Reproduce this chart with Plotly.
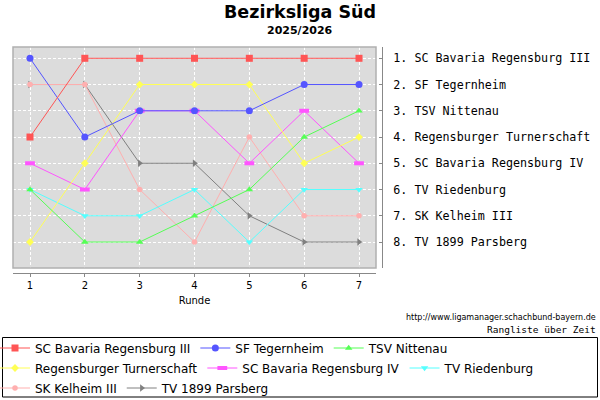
import plotly.graph_objects as go

# figure size and plot area (pixels)
W, H = 600, 400
L, R, T, B = 13, 218, 47, 127

rounds = [1, 2, 3, 4, 5, 6, 7]

teams = [
    "SC Bavaria Regensburg III",
    "SF Tegernheim",
    "TSV Nittenau",
    "Regensburger Turnerschaft",
    "SC Bavaria Regensburg IV",
    "TV Riedenburg",
    "SK Kelheim III",
    "TV 1899 Parsberg",
]

# rank after each round
rank_bavaria3 = [4, 1, 1, 1, 1, 1, 1]
rank_tegernheim = [1, 4, 3, 3, 3, 2, 2]
rank_nittenau = [6, 8, 8, 7, 6, 4, 3]
rank_turnerschaft = [8, 5, 2, 2, 2, 5, 4]
rank_bavaria4 = [5, 6, 3, 3, 5, 3, 5]
rank_riedenburg = [6, 7, 7, 6, 8, 6, 6]
rank_kelheim = [2, 2, 6, 8, 4, 7, 7]
rank_parsberg = [2, 2, 5, 5, 7, 8, 8]

ranks = [rank_bavaria3, rank_tegernheim, rank_nittenau, rank_turnerschaft,
         rank_bavaria4, rank_riedenburg, rank_kelheim, rank_parsberg]

final_places = [1, 2, 3, 4, 5, 6, 7, 8]
place_labels = [f"{p}. {t}" for p, t in zip(final_places, teams)]

colors = ["#ff5555", "#5555ff", "#55ff55", "#ffff55",
          "#ff55ff", "#55ffff", "#ffafaf", "#808080"]
symbols = ["square", "circle", "triangle-up", "diamond",
           "line-ew", "triangle-down", "circle", "triangle-right"]
sizes = [7, 7, 6.5, 6, 7, 6.5, 5.5, 6.5]


def px_x(px):
    return (px - L) / (W - L - R)


def px_y(py):
    return (H - B - py) / (H - T - B)


fig = go.Figure()

# first series on top -> add in reverse, keep legend order with legendrank
for i in reversed(range(len(teams))):
    c = colors[i]
    line_marker = symbols[i] == "line-ew"
    fig.add_trace(go.Scatter(
        x=rounds, y=ranks[i], name=teams[i],
        mode="lines+markers",
        line=dict(color=c, width=1),
        marker=dict(symbol=symbols[i], size=sizes[i], color=c,
                    line=dict(color=c, width=4 if line_marker else 0)),
        legendgroup=teams[i], legendrank=i + 1,
    ))

mono = "DejaVu Sans Mono"
sans = "DejaVu Sans"

fig.update_layout(
    width=W, height=H,
    margin=dict(l=L, r=R, t=T, b=B, autoexpand=False),
    paper_bgcolor="white",
    plot_bgcolor="#dcdcdc",
    font=dict(family=sans, size=10, color="black"),
    showlegend=True,
    legend=dict(
        orientation="h", xanchor="right", x=px_x(540),
        yanchor="top", y=px_y(333.5),
        font=dict(family=sans, size=12, color="black"),
        bgcolor="rgba(0,0,0,0)", borderwidth=0,
        tracegroupgap=1, itemwidth=30,
    ),
    xaxis=dict(
        domain=[0, px_x(376)], range=[0.69, 7.31],
        anchor="free", position=0,
        tickvals=rounds, ticks="outside", ticklen=3, tickcolor="#888888",
        showline=True, linecolor="#888888", linewidth=1,
        showgrid=True, gridcolor="white", griddash="3px,2px", gridwidth=1,
        zeroline=False,
        tickfont=dict(family=sans, size=10),
        title=dict(text="Runde", font=dict(family=sans, size=10), standoff=6),
    ),
    yaxis=dict(
        domain=[px_y(268), 1], range=[8.99, 0.57],
        side="right", anchor="free", position=1,
        tickvals=final_places, ticktext=place_labels,
        ticks="inside", ticklen=3, tickcolor="#888888",
        showline=True, linecolor="#888888", linewidth=1,
        showgrid=True, gridcolor="white", griddash="3px,2px", gridwidth=1,
        zeroline=False,
        tickfont=dict(family=mono, size=11.7),
        ticklabelstandoff=8,
    ),
)

# plot outline and legend frame
fig.add_shape(type="rect", xref="x domain", yref="y domain",
              x0=0, x1=1, y0=0, y1=1, line=dict(color="#b0b0b0", width=1.5))
fig.add_shape(type="rect", xref="paper", yref="paper",
              x0=px_x(2.5), x1=px_x(597.5), y0=px_y(397), y1=px_y(337.5),
              line=dict(color="black", width=1))

texts = [
    ("Bezirksliga Süd", 300, 12, "center", dict(family=sans, size=17.5, weight="bold")),
    ("2025/2026", 300, 30, "center", dict(family=sans, size=11, weight="bold")),
    ("http://www.ligamanager.schachbund-bayern.de", 598, 317, "right", dict(family=sans, size=8)),
    ("Rangliste über Zeit", 598, 329.5, "right", dict(family=mono, size=9.5)),
]
for txt, tx, ty, anchor, f in texts:
    fig.add_annotation(text=txt, xref="paper", yref="paper",
                       x=px_x(tx), y=px_y(ty), xanchor=anchor, yanchor="middle",
                       showarrow=False, font=dict(color="black", **f))

# drop the browser's default body margin so the figure sits at the page corner
fig.write_html("out.html", config={"displayModeBar": False},
               post_script="document.body.style.margin = '0';")
